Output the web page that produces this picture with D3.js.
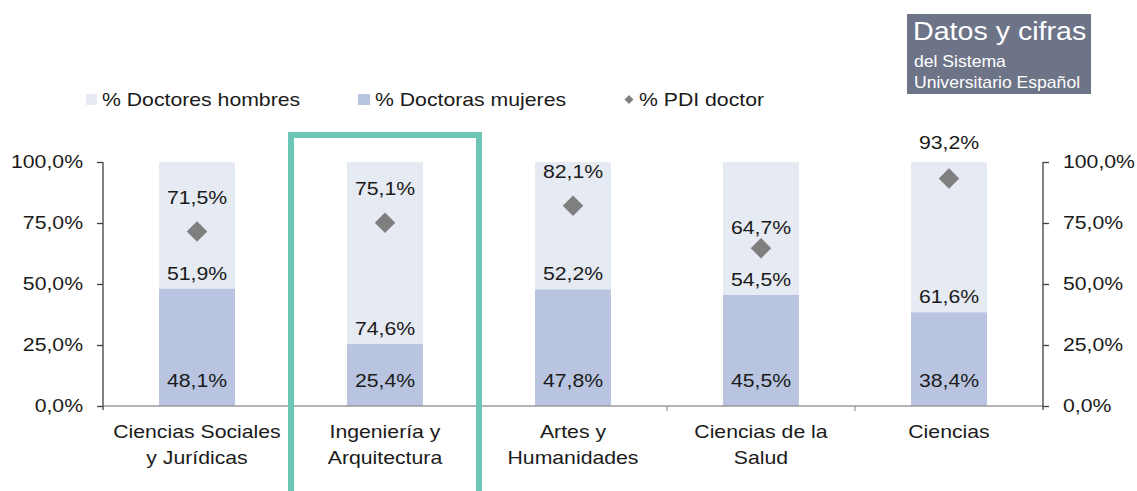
<!DOCTYPE html>
<html>
<head>
<meta charset="utf-8">
<script src="https://cdn.jsdelivr.net/npm/d3@7/dist/d3.min.js"></script>
<style>
    body { margin: 0; background: #fff; }
    svg { display: block; font-family: "Liberation Sans", Arial, sans-serif; }
    text { fill: #1a1a1a; }
    /* the source picture is stretched sideways, so widen text around its anchor */
    .wide-mid, .wide-start, .wide-end { transform-box: fill-box; transform: scaleX(1.18); }
    .wide-mid { transform-origin: center; }
    .wide-start { transform-origin: left center; }
    .wide-end { transform-origin: right center; }
    .title-text { transform-box: fill-box; transform-origin: left center; transform: scaleX(1.1); }
</style>
</head>
<body>
<svg width="1137" height="491"></svg>
<script>
// DATA ==============================================
const categories = ['Ciencias Sociales\ny Jurídicas', 'Ingeniería y\nArquitectura', 'Artes y\nHumanidades', 'Ciencias de la\nSalud', 'Ciencias'];
const mujeres = [48.1, 25.4, 47.8, 45.5, 38.4];
const hombres = [51.9, 74.6, 52.2, 54.5, 61.6];
const pdiDoctor = [71.5, 75.1, 82.1, 64.7, 93.2];
const tickValues = [0, 25, 50, 75, 100];
const highlighted = 'Ingeniería y\nArquitectura';

// label nudges (layout only, px above the diamond)
const pdiLabelLift = [34, 34, 34, 21, 36];

const COL_HOMBRES = '#e6eaf3',
    COL_MUJERES = '#b9c5e0',
    COL_PDI = '#7f7f7f',
    COL_GREEN = '#6cc6b6';

const svg = d3.select('svg');
const PLOT_LEFT = 103, PLOT_RIGHT = 1043, PLOT_TOP = 162, PLOT_BOTTOM = 406;

const locale = d3.formatLocale({ decimal: ',', thousands: '.', grouping: [3], currency: ['', '€'] });
const fmtPct = d => locale.format('.1f')(d) + '%';

const x = d3.scaleBand()
    .domain(categories)
    .range([PLOT_LEFT, PLOT_RIGHT])
    .paddingInner(0.596)
    .paddingOuter(0.298);

const y = d3.scaleLinear()
    .domain([0, 100])
    .range([PLOT_BOTTOM, PLOT_TOP]);

// bars
const bars = svg.append('g').selectAll('g')
    .data(categories)
    .join('g');

bars.append('rect')
    .attr('x', d => x(d))
    .attr('width', x.bandwidth())
    .attr('y', (d, i) => y(mujeres[i] + hombres[i]))
    .attr('height', (d, i) => y(mujeres[i]) - y(mujeres[i] + hombres[i]))
    .attr('fill', COL_HOMBRES);

bars.append('rect')
    .attr('x', d => x(d))
    .attr('width', x.bandwidth())
    .attr('y', (d, i) => y(mujeres[i]))
    .attr('height', (d, i) => y(0) - y(mujeres[i]))
    .attr('fill', COL_MUJERES);

// baseline with category separators
const base = svg.append('g');
base.append('line')
    .attr('x1', PLOT_LEFT).attr('x2', PLOT_RIGHT)
    .attr('y1', y(0)).attr('y2', y(0))
    .attr('stroke', '#9a9a9a').attr('stroke-width', 1.3);
categories.slice(1).forEach(c => {
    const bx = x(c) - x.step() * x.paddingInner() / 2;
    base.append('line')
        .attr('x1', bx).attr('x2', bx)
        .attr('y1', y(0)).attr('y2', y(0) + 5)
        .attr('stroke', '#9a9a9a').attr('stroke-width', 1.3);
});

// axes
function drawAxis(axis, xpos, cls) {
    const g = svg.append('g')
        .attr('transform', `translate(${xpos},0)`)
        .call(axis.tickValues(tickValues).tickFormat(fmtPct).tickSizeOuter(0).tickSize(6).tickPadding(14));
    g.select('.domain').remove();
    g.append('line')
        .attr('x1', 0).attr('x2', 0)
        .attr('y1', y(100)).attr('y2', y(0) + 4)
        .attr('stroke', '#404040').attr('stroke-width', 1.3);
    g.selectAll('.tick line').attr('stroke', '#404040').attr('stroke-width', 1.3);
    g.selectAll('.tick text')
        .attr('class', cls)
        .attr('font-size', 18)
        .attr('font-family', '"Liberation Sans", Arial, sans-serif')
        .attr('fill', '#1a1a1a');
    return g;
}
drawAxis(d3.axisLeft(y), PLOT_LEFT, 'wide-end');
drawAxis(d3.axisRight(y), PLOT_RIGHT, 'wide-start');

// diamonds
const diamond = d3.symbol().type(d3.symbolSquare).size(210);
bars.append('path')
    .attr('d', diamond)
    .attr('transform', (d, i) => `translate(${x(d) + x.bandwidth() / 2},${y(pdiDoctor[i])}) rotate(45)`)
    .attr('fill', COL_PDI);

// value labels
const labelAttrs = sel => sel
    .attr('class', 'wide-mid')
    .attr('x', d => x(d) + x.bandwidth() / 2)
    .attr('text-anchor', 'middle')
    .attr('font-size', 18);

bars.append('text').call(labelAttrs)
    .attr('y', y(0) - 19)
    .text((d, i) => fmtPct(mujeres[i]));

bars.append('text').call(labelAttrs)
    .attr('y', (d, i) => y(mujeres[i]) - 9)
    .text((d, i) => fmtPct(hombres[i]));

bars.append('text').call(labelAttrs)
    .attr('y', (d, i) => y(pdiDoctor[i]) - pdiLabelLift[i] + 6.5)
    .text((d, i) => fmtPct(pdiDoctor[i]));

// category labels
bars.append('g')
    .selectAll('text')
    .data(d => d.split('\n').map(t => ({ t, c: d })))
    .join('text')
    .attr('class', 'wide-mid')
    .attr('text-anchor', 'middle')
    .attr('font-size', 18)
    .attr('x', d => x(d.c) + x.bandwidth() / 2)
    .attr('y', (d, i) => y(0) + 32 + i * 26)
    .text(d => d.t);

// legend
const legend = svg.append('g').attr('font-size', 18);
const ly = 99.5;
legend.append('rect').attr('x', 86).attr('y', ly - 5.5).attr('width', 11).attr('height', 11).attr('fill', COL_HOMBRES);
legend.append('text').attr('class', 'wide-start').attr('x', 102).attr('y', ly + 6.5).text('% Doctores hombres');
legend.append('rect').attr('x', 358).attr('y', ly - 5.5).attr('width', 12).attr('height', 11).attr('fill', COL_MUJERES);
legend.append('text').attr('class', 'wide-start').attr('x', 375).attr('y', ly + 6.5).text('% Doctoras mujeres');
legend.append('path')
    .attr('d', d3.symbol().type(d3.symbolSquare).size(40))
    .attr('transform', `translate(629,${ly}) rotate(45)`)
    .attr('fill', COL_PDI);
legend.append('text').attr('class', 'wide-start').attr('x', 639).attr('y', ly + 6.5).text('% PDI doctor');

// title box
const box = svg.append('g');
box.append('rect').attr('x', 907).attr('y', 14).attr('width', 184).attr('height', 80).attr('fill', '#6d7488');
box.append('text').attr('class', 'title-text').attr('x', 913).attr('y', 40).attr('font-size', 26).style('fill', '#fff').text('Datos y cifras');
box.append('text').attr('class', 'title-text').attr('x', 914).attr('y', 67).attr('font-size', 16).style('fill', '#fff').text('del Sistema');
box.append('text').attr('class', 'title-text').attr('x', 914).attr('y', 88).attr('font-size', 16).style('fill', '#fff').text('Universitario Español');

// highlight frame around the selected category
const hx = x(highlighted) - x.step() * x.paddingInner() / 2;
svg.append('rect')
    .attr('x', hx)
    .attr('y', y(100) - 27)
    .attr('width', x.step())
    .attr('height', 400)
    .attr('fill', 'none')
    .attr('stroke', COL_GREEN)
    .attr('stroke-width', 6);
</script>
</body>
</html>
